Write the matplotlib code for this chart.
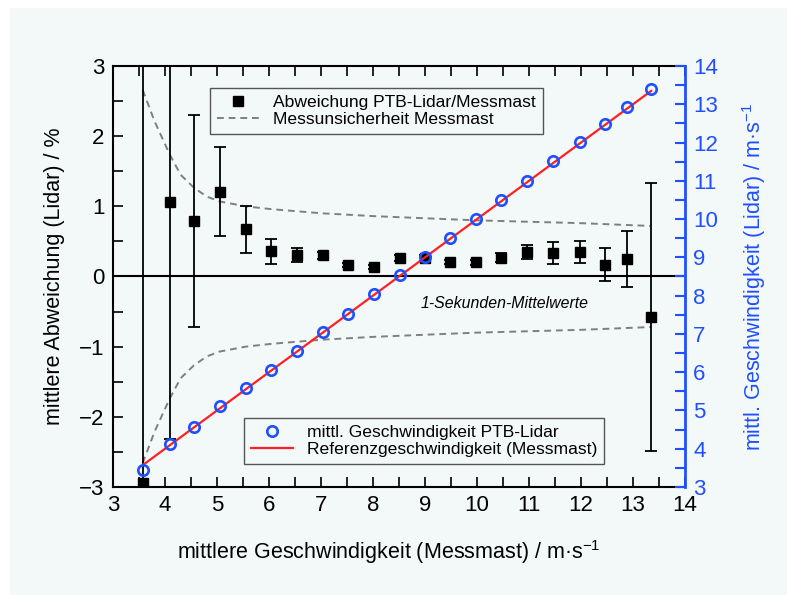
import numpy as np
import matplotlib
matplotlib.use("Agg")
import matplotlib.pyplot as plt
from matplotlib.lines import Line2D
from matplotlib.ticker import MultipleLocator

plt.rcParams["font.family"] = ["Liberation Sans", "DejaVu Sans"]
plt.rcParams["mathtext.fontset"] = "custom"
plt.rcParams["mathtext.rm"] = "Liberation Sans"

# mean mast speed (x) and mean lidar deviation in %
v_mast = [3.57, 4.09, 4.55, 5.05, 5.55, 6.04, 6.53, 7.03, 7.52, 8.02, 8.52,
          9.00, 9.49, 9.98, 10.47, 10.97, 11.47, 11.98, 12.46, 12.89, 13.35]
dev_pct = [-2.95, 1.06, 0.79, 1.21, 0.67, 0.36, 0.31, 0.30, 0.16, 0.14, 0.26,
           0.26, 0.21, 0.20, 0.27, 0.35, 0.34, 0.35, 0.17, 0.25, -0.58]
dev_err = [7.0, 3.38, 1.51, 0.635, 0.335, 0.18, 0.10, 0.05, 0.03, 0.03, 0.04,
           0.04, 0.03, 0.03, 0.06, 0.10, 0.155, 0.16, 0.24, 0.40, 1.91]

# mean lidar speed (right axis)
v_lidar = [3.45, 4.13, 4.58, 5.11, 5.59, 6.06, 6.55, 7.05, 7.53, 8.03, 8.54,
           9.02, 9.51, 10.00, 10.49, 11.00, 11.51, 12.02, 12.48, 12.92, 13.40]

# mast measurement uncertainty (±, in %)
unc_x = [3.57, 3.80, 4.09, 4.30, 4.55, 4.80, 5.05, 5.55, 6.04, 6.53, 7.03,
         8.02, 9.00, 10.00, 11.00, 12.00, 13.35]
unc_pct = [2.66, 2.21, 1.74, 1.45, 1.27, 1.14, 1.07, 1.00, 0.96, 0.93, 0.90,
           0.86, 0.83, 0.80, 0.78, 0.76, 0.72]

BG = "#f3f8f9"
BLUE = "#1f4fff"
RED = "#ff2020"
GRAY = "#7f7f7f"

fig = plt.figure(figsize=(7.87, 5.95), dpi=100, facecolor="white")
bg = plt.Rectangle((10 / 787, 0), 1, 1 - 8 / 595, transform=fig.transFigure,
                   facecolor=BG, edgecolor="none", zorder=-10)
fig.add_artist(bg)

ax = fig.add_axes([0.1436, 0.1815, 0.7268, 0.7076])
ax.set_facecolor(BG)
ax2 = ax.twinx()

# deviation + uncertainty band (left axis)
ax.axhline(0, color="black", lw=1.5, zorder=2)
ax.plot(unc_x, unc_pct, color=GRAY, lw=1.4, ls=(0, (3.5, 2.5)), zorder=3)
ax.plot(unc_x, -np.array(unc_pct), color=GRAY, lw=1.4, ls=(0, (3.5, 2.5)),
        zorder=3)
ax.errorbar(v_mast, dev_pct, yerr=dev_err, fmt="s", color="black",
            ms=7, ecolor="black", elinewidth=1.3, capsize=4, capthick=1.3,
            zorder=4)

ax.set_xlim(3, 14)
ax.set_ylim(-3, 3)
ax.xaxis.set_major_locator(MultipleLocator(1))
ax.xaxis.set_minor_locator(MultipleLocator(0.5))
ax.yaxis.set_major_locator(MultipleLocator(1))
ax.yaxis.set_minor_locator(MultipleLocator(0.5))
ax.tick_params(which="both", direction="in", length=7, width=1.2,
               top=True, right=False, labelsize=16)
ax.tick_params(axis="x", pad=6)
ax.tick_params(axis="y", pad=6)
for s in ("left", "bottom", "top"):
    ax.spines[s].set_linewidth(1.5)
ax.spines["right"].set_visible(False)

ax.set_xlabel(r"mittlere Geschwindigkeit (Messmast) / m·s$^{\mathregular{-1}}$",
              fontsize=15.5, labelpad=16)
ax.xaxis.label.set_x(0.483)
ax.set_ylabel("mittlere Abweichung (Lidar) / %", fontsize=15.5, labelpad=10)

ax.text(0.685, 0.435, "1-Sekunden-Mittelwerte", transform=ax.transAxes,
        fontsize=11.4, style="italic", ha="center", va="center")

# speeds (right axis)
ax2.plot(v_mast, v_mast, color=RED, lw=1.6, zorder=3)
ax2.plot(v_mast, v_lidar, "o", ls="none", mfc="none", mec=BLUE, mew=1.9,
         ms=7.5, zorder=4)
ax2.set_ylim(3, 14)
ax2.yaxis.set_major_locator(MultipleLocator(1))
ax2.yaxis.set_minor_locator(MultipleLocator(0.5))
ax2.tick_params(which="both", direction="in", length=7, width=1.5,
                color=BLUE, labelcolor=BLUE, labelsize=16, pad=6)
ax2.spines["right"].set_color(BLUE)
ax2.spines["right"].set_linewidth(2)
for s in ("left", "bottom", "top"):
    ax2.spines[s].set_visible(False)
ax2.set_ylabel(r"mittl. Geschwindigkeit (Lidar) / m·s$^{\mathregular{-1}}$",
               fontsize=15.5, color=BLUE, labelpad=16)

leg_kw = dict(fontsize=12.6, frameon=True, fancybox=False, framealpha=1,
              facecolor=BG, edgecolor="#555555", handlelength=2.4,
              handletextpad=0.8, labelspacing=0.1, borderpad=0.4,
              borderaxespad=0)

h1 = [Line2D([], [], marker="s", color="black", ls="none", ms=7),
      Line2D([], [], color=GRAY, lw=1.4, ls=(0, (3.5, 2.5)))]
leg1 = ax2.legend(h1, ["Abweichung PTB-Lidar/Messmast",
                       "Messunsicherheit Messmast"],
                  loc="upper left", bbox_to_anchor=(0.17, 0.948), **leg_kw)
leg1.get_frame().set_linewidth(1)
ax2.add_artist(leg1)

h2 = [Line2D([], [], marker="o", mfc="none", mec=BLUE, mew=1.9, ls="none",
             ms=7.5),
      Line2D([], [], color=RED, lw=1.6)]
leg2 = ax2.legend(h2, ["mittl. Geschwindigkeit PTB-Lidar",
                       "Referenzgeschwindigkeit (Messmast)"],
                  loc="lower left", bbox_to_anchor=(0.229, 0.055), **leg_kw)
leg2.get_frame().set_linewidth(1)

fig.savefig("out.png", dpi=100, facecolor=fig.get_facecolor())
